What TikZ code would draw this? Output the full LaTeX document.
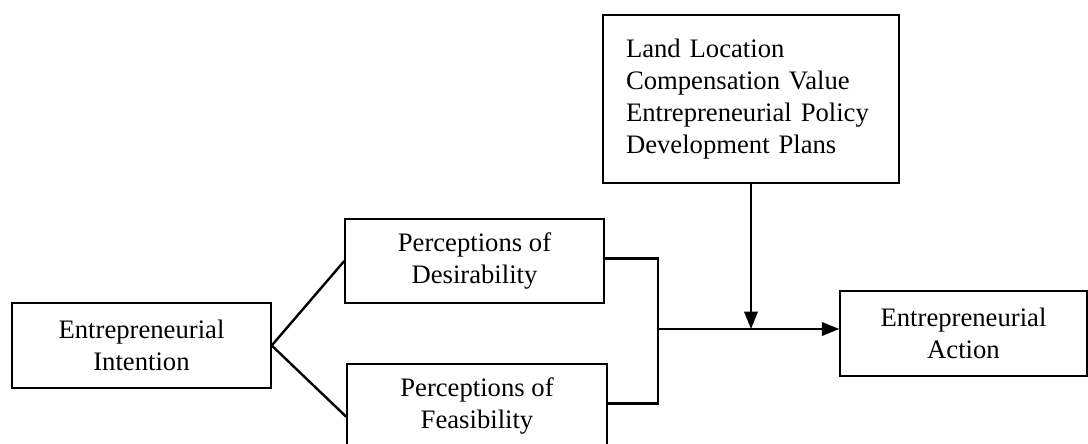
\documentclass[tikz,border=0pt]{standalone}
\usepackage{fontspec}
\setmainfont{Liberation Serif}
\usetikzlibrary{arrows.meta}
\usetikzlibrary{calc}

\begin{document}
\begin{tikzpicture}[x=0.75pt,y=-0.75pt,>={Triangle[length=13pt,width=10pt]},
		box/.style={draw,line width=1.3pt,align=center,inner sep=0pt,
			font=\fontsize{20}{24}\selectfont},
		link/.style={line width=1.8pt}]
		
		\useasboundingbox (0,0) rectangle (1088,443);
		\clip (0,0) rectangle (1088,443);
		
		% Intention and the two perceptions
		\begin{scope}
			\node[box,minimum width=194pt,minimum height=64pt] (intent) at (141.5,345.5)
			{Entrepreneurial\\Intention};
			\node[box,minimum width=194pt,minimum height=63pt] (desir) at (474.5,261)
			{Perceptions of\\Desirability};
			\node[box,minimum width=195pt,minimum height=63pt] (feas) at (477,406)
			{Perceptions of\\Feasibility};
			
			% fork from intention
			\draw[link] (intent.east) -- (desir.west);
			\draw[link] (intent.east) -- ([yshift=-8pt]feas.west);
		\end{scope}
		
		% Factors box and action box
		\begin{scope}
			\node[box,align=left,text width=187.5pt,inner xsep=17pt,minimum height=126pt] (factors) at (751,99)
			{Land Location\\Compensation Value\\Entrepreneurial Policy\\Development Plans};
			\node[box,minimum width=185pt,minimum height=64pt] (action) at (963.5,333.5)
			{Entrepreneurial\\Action};
		\end{scope}
		
		% bracket joining both perceptions
		\coordinate (join) at (658,329);
		\draw[link] ([yshift=2pt]desir.east) -| (join) |- ([yshift=2pt]feas.east);
		
		% to the action, moderated from above
		\draw[link,->] (join) -- (join -| action.west);
		\draw[link,->] (factors.south) -- (factors.south |- join);
		
	\end{tikzpicture}
\end{document}
